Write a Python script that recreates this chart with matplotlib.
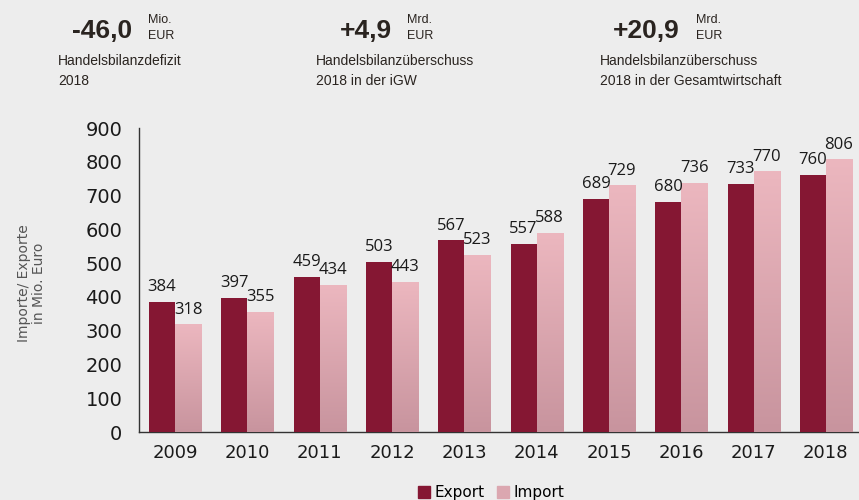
import matplotlib

matplotlib.use("Agg")
import matplotlib.pyplot as plt
import numpy as np
from matplotlib.colors import LinearSegmentedColormap

years = ["2009", "2010", "2011", "2012", "2013", "2014", "2015", "2016", "2017", "2018"]
export_vals = [384, 397, 459, 503, 567, 557, 689, 680, 733, 760]
import_vals = [318, 355, 434, 443, 523, 588, 729, 736, 770, 806]

headline_vals = ["-46,0", "+4,9", "+20,9"]
headline_units = ["Mio.\nEUR", "Mrd.\nEUR", "Mrd.\nEUR"]
headline_texts = [
    "Handelsbilanzdefizit\n2018",
    "Handelsbilanzüberschuss\n2018 in der iGW",
    "Handelsbilanzüberschuss\n2018 in der Gesamtwirtschaft",
]

BG = "#ededed"
EXPORT_C = "#851733"
IMPORT_TOP = "#ecb7bf"
IMPORT_BOT = "#c8949e"
HEAD_FONT = ["Liberation Sans", "DejaVu Sans"]

fig = plt.figure(figsize=(8.59, 5.0), dpi=100)
fig.patch.set_facecolor(BG)
ax = fig.add_axes([0.1618, 0.136, 0.8417, 0.608])
ax.set_facecolor(BG)

x = np.arange(len(years))
w = 0.36
ax.bar(x - w / 2, export_vals, w, color=EXPORT_C, zorder=3)
imp_bars = ax.bar(x + w / 2, import_vals, w, color=IMPORT_BOT, zorder=3)

# vertical gradient on the import bars
cmap = LinearSegmentedColormap.from_list("imp", [IMPORT_BOT, IMPORT_TOP])
grad = np.linspace(0, 1, 256).reshape(-1, 1)
for b in imp_bars:
    x0, h = b.get_x(), b.get_height()
    ax.imshow(grad, cmap=cmap, origin="lower", aspect="auto",
              extent=(x0, x0 + b.get_width(), 0, h), zorder=4)

for xi, v in zip(x, export_vals):
    ax.annotate(str(v), (xi - w / 2, v), xytext=(0, 5), textcoords="offset points",
                ha="center", va="bottom", fontsize=12, color="#1a1a1a",
                family="Open Sans", zorder=5)
for xi, v in zip(x, import_vals):
    ax.annotate(str(v), (xi + w / 2, v), xytext=(0, 5), textcoords="offset points",
                ha="center", va="bottom", fontsize=12, color="#1a1a1a",
                family="Open Sans", zorder=5)

ax.set_xlim(-0.5, len(years) - 0.5)
ax.set_ylim(0, 900)
ax.set_yticks(range(0, 901, 100))
ax.set_xticks(x)
ax.set_xticklabels(years)
ax.tick_params(axis="y", labelsize=14, length=0, pad=12, labelcolor="#1a1a1a")
ax.tick_params(axis="x", labelsize=13, length=0, pad=9, labelcolor="#1a1a1a")
for s in ["top", "right"]:
    ax.spines[s].set_visible(False)
for s in ["left", "bottom"]:
    ax.spines[s].set_color("#333333")
    ax.spines[s].set_linewidth(1.0)

fig.text(0.037, 0.434, "Importe/ Exporte\nin Mio. Euro", rotation=90, ha="center",
         va="center", fontsize=10, color="#555555", linespacing=1.1)

# headline figures
val_x = [72, 340, 613]
unit_x = [148, 407, 696]
txt_x = [58, 316, 600]
for vx, ux, tx, v, u, t in zip(val_x, unit_x, txt_x, headline_vals, headline_units, headline_texts):
    fig.text(vx / 859, 1 - 38 / 500, v, fontsize=19, fontweight="bold", color="#2a2420",
             family=HEAD_FONT, ha="left", va="baseline")
    fig.text(ux / 859, 1 - 28 / 500, u, fontsize=9, color="#2a2420", family=HEAD_FONT,
             ha="left", va="center", linespacing=1.45)
    fig.text(tx / 859, 1 - 71 / 500, t, fontsize=10, color="#2a2420", family=HEAD_FONT,
             ha="left", va="center", linespacing=1.5)

# legend
handles = [plt.Rectangle((0, 0), 1, 1, color=EXPORT_C),
           plt.Rectangle((0, 0), 1, 1, color="#dba7b0")]
fig.legend(handles, ["Export", "Import"], loc="center", bbox_to_anchor=(0.572, 0.015),
           ncol=2, frameon=False, fontsize=11, handlelength=0.8, handleheight=0.8,
           handletextpad=0.3, columnspacing=0.8)

fig.savefig("out.png", dpi=100, facecolor=BG)
